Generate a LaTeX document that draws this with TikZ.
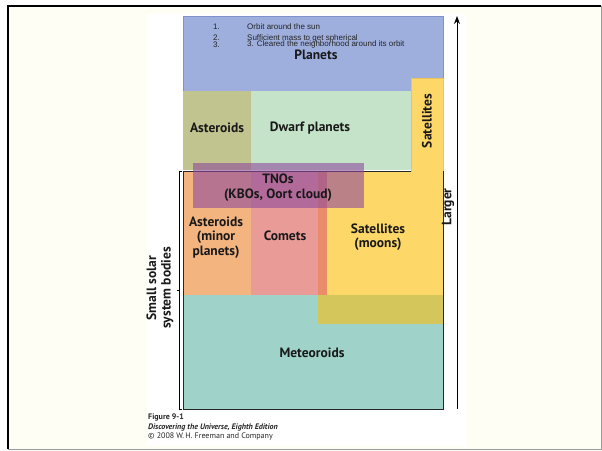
\documentclass[tikz,border=0pt]{standalone}
\usepackage{fontspec}
\setmainfont{PT Sans}
\newfontfamily\arialfont{Liberation Sans}
\usetikzlibrary{arrows.meta}
\definecolor{cream}{HTML}{FFFEF5}
\definecolor{planetblue}{HTML}{9EAEDD}
\definecolor{planetedge}{HTML}{7F92CB}
\definecolor{dwarfgreen}{HTML}{C4E3C9}
\definecolor{astolive}{HTML}{C2C48F}
\definecolor{satyellow}{HTML}{FDD868}
\definecolor{satedge}{HTML}{E9C45A}
\definecolor{astorange}{HTML}{F3B480}
\definecolor{cometpink}{HTML}{E99B98}
\definecolor{stripdark}{HTML}{EA8C69}
\definecolor{meteal}{HTML}{9FD2C8}
\definecolor{overolive}{HTML}{D4C65B}
\definecolor{tnopurple}{HTML}{8E4A9C}
\tikzset{
  lbl/.style={font=\bfseries\fontsize{13.5}{14.5}\selectfont, align=center, inner sep=0pt, text=black!90},
  listtxt/.style={font=\arialfont\fontsize{8}{9}\selectfont, anchor=west, inner sep=0pt, text=black!85},
  captxt/.style={font=\fontsize{8}{9}\selectfont, anchor=west, inner sep=0pt, text=black!85},
}
\begin{document}
\begin{tikzpicture}[x=1pt,y=-1pt]
\useasboundingbox (0,0) rectangle (602,450);
% page frame
\fill[white] (0,0) rectangle (602,450);
\fill[cream] (8,6) rectangle (601,449);
\draw[gray!80, line width=1pt] (601,6) -- (601,449) -- (8,449);
\draw[black, line width=2pt] (8,449) -- (8,6) -- (601,6);
% white panel
\fill[white] (147,14) rectangle (466,446);
% planets
\draw[fill=planetblue, draw=planetedge, line width=0.6pt] (183,16) rectangle (443,91);
% yellow satellites region
\draw[fill=satyellow, draw=satedge, line width=0.5pt] (411,78) -- (443,78) -- (443,324) -- (318,324) -- (318,171) -- (411,171) -- cycle;
% dwarf planets / asteroids
\fill[dwarfgreen] (183,91) rectangle (411,170);
\fill[astolive] (183,91) rectangle (251,170);
% small bodies
\fill[astorange] (183,171) rectangle (251,295);
\fill[cometpink] (251,171) rectangle (318,295);
\fill[stripdark] (318,171) rectangle (327,295);
\fill[meteal] (183,295) rectangle (443,409);
\fill[overolive] (318,295) rectangle (443,324);
% black frame of small solar system bodies
\draw[black!85, line width=0.9pt] (411,171) -- (183,171) -- (183,409) -- (443,409) -- (443,171);
% TNO overlay
\fill[tnopurple, fill opacity=0.6] (193,163) rectangle (364,208);
% list
\node[listtxt] (n1) at (213,27) {1.};
\node[listtxt] (n2) at (213,38) {2.};
\node[listtxt] (n3) at (213,44.5) {3.};
\node[listtxt] (t1) at (247,27) {Orbit around the sun};
\node[listtxt] (t2) at (247,38) {Sufficient mass to get spherical};
\node[listtxt] (t3) at (247,44.5) {3. Cleared the neighborhood around its orbit};
% labels
\node[lbl] (planets) at (316,55) {Planets};
\node[lbl] (ast1) at (217,128) {Asteroids};
\node[lbl] (dwarf) at (310,128) {Dwarf planets};
\node[lbl, rotate=90] (sat1) at (427,121) {Satellites};
\node[lbl] (tno) at (278,187.5) {TNOs\\(KBOs, Oort cloud)};
\node[lbl] (ast2) at (216,237.5) {Asteroids\\(minor\\planets)};
\node[lbl] (comets) at (285,236) {Comets};
\node[lbl] (sat2) at (378,237) {Satellites\\(moons)};
\node[lbl] (meteor) at (312,353) {Meteoroids};
% larger arrow
\coordinate (abot) at (457,409);
\coordinate (atop) at (457,16);
\draw[line width=1pt, -{Stealth[length=8pt,width=6pt]}] (abot) -- (atop);
\node[lbl, rotate=90] (larger) at (448,207) {Larger};
% bracket
\coordinate (bt) at (182,171);
\coordinate (bb) at (182,409);
\draw[black, line width=0.9pt] (bt) -- (179,171) -- (179,409) -- (bb);
\draw[black, line width=0.6pt] (179,290) -- (177,290);
\node[lbl, rotate=90] (ssb) at (160,288) {Small solar\\system bodies};
% caption
\node[captxt, font=\bfseries\fontsize{8}{9}\selectfont] (fig) at (148,417) {Figure 9-1};
\node[captxt, font=\bfseries\itshape\fontsize{8}{9}\selectfont] (book) at (148,427) {Discovering the Universe, Eighth Edition};
\node[captxt] (copy) at (148,436.5) {© 2008 W.\,H. Freeman and Company};
\end{tikzpicture}
\end{document}
